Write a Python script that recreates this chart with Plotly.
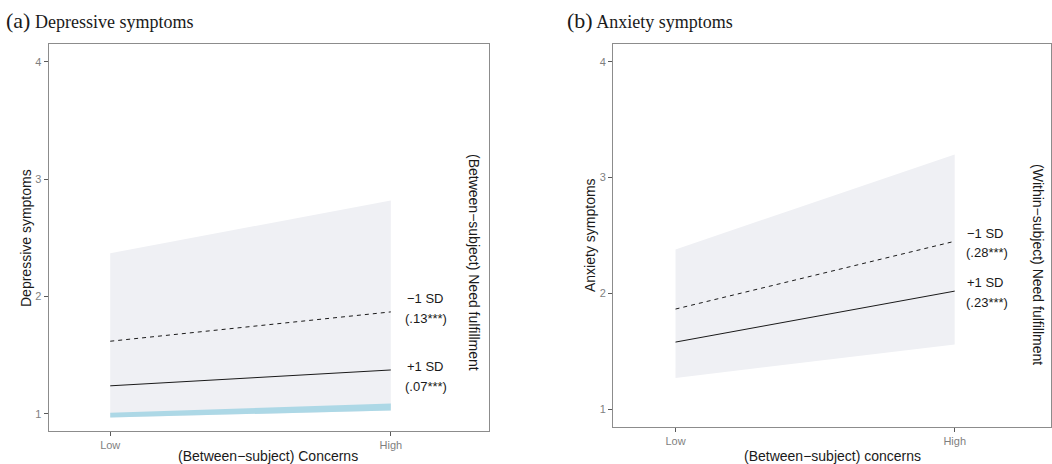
import plotly.graph_objects as go

W, H = 1052, 464

# ---- data ----
categories = ["Low", "High"]
x_num = [0, 1]

dep_minus1_sd = [1.62, 1.87]
dep_plus1_sd = [1.24, 1.375]
dep_ci_upper = [2.37, 2.82]
dep_ci_lower = [0.97, 1.03]
dep_band_upper = [1.01, 1.09]
dep_band_lower = [0.97, 1.03]

anx_minus1_sd = [1.865, 2.45]
anx_plus1_sd = [1.58, 2.02]
anx_ci_upper = [2.38, 3.20]
anx_ci_lower = [1.27, 1.56]

y_ticks = [1, 2, 3, 4]

fig = go.Figure()

RIBBON = "#eff0f4"
BAND = "#add8e6"

def add_ribbon(lo, hi, color, xa, ya):
    fig.add_trace(go.Scatter(x=x_num + x_num[::-1], y=hi + lo[::-1], fill="toself",
                             fillcolor=color, line=dict(width=0), mode="lines",
                             xaxis=xa, yaxis=ya, showlegend=False, hoverinfo="skip"))

def add_line(vals, dash, xa, ya):
    fig.add_trace(go.Scatter(x=x_num, y=vals, mode="lines",
                             line=dict(color="#1a1a1a", width=1, dash=dash),
                             xaxis=xa, yaxis=ya, showlegend=False))

# panel (a)
add_ribbon(dep_ci_lower, dep_ci_upper, RIBBON, "x", "y")
add_ribbon(dep_band_lower, dep_band_upper, BAND, "x", "y")
add_line(dep_minus1_sd, "4px,4px", "x", "y")
add_line(dep_plus1_sd, "solid", "x", "y")

# panel (b)
add_ribbon(anx_ci_lower, anx_ci_upper, RIBBON, "x2", "y2")
add_line(anx_minus1_sd, "4px,4px", "x2", "y2")
add_line(anx_plus1_sd, "solid", "x2", "y2")

def px_x(p):
    return p / W

def px_y(p):
    return 1 - p / H

tickfont = dict(family="Liberation Sans, Arial, sans-serif", size=11, color="#7f7f7f")
axis_common = dict(showgrid=False, zeroline=False, showline=True, linecolor="#8c8c8c",
                   linewidth=1, mirror=True, ticks="outside", ticklen=4,
                   tickcolor="#5a5a5a", tickfont=tickfont)

fig.update_layout(
    width=W, height=H,
    margin=dict(l=0, r=0, t=0, b=0),
    paper_bgcolor="white", plot_bgcolor="white",
    xaxis=dict(domain=[px_x(48.5), px_x(489)], range=[-0.22, 1.35],
               tickvals=x_num, ticktext=categories, anchor="y", **axis_common),
    yaxis=dict(domain=[px_y(431), px_y(44)], range=[0.855, 4.153],
               tickvals=y_ticks, anchor="x", **axis_common),
    xaxis2=dict(domain=[px_x(613), px_x(1051)], range=[-0.224, 1.345],
                tickvals=x_num, ticktext=categories, anchor="y2", **axis_common),
    yaxis2=dict(domain=[px_y(427), px_y(44)], range=[0.847, 4.153],
                tickvals=y_ticks, anchor="x2", **axis_common),
)

annotations = []

def ann(text, x, y, size=14, angle=0, family="Liberation Sans, Arial, sans-serif", xanchor="center", color="#1a1a1a"):
    annotations.append(dict(text=text, x=px_x(x), y=px_y(y), xref="paper", yref="paper",
                            showarrow=False, textangle=angle, xanchor=xanchor, yanchor="middle",
                            font=dict(family=family, size=size, color=color)))

serif = "Liberation Serif, Times New Roman, serif"
ann("<span style='font-size:22px'>(a)</span> Depressive symptoms", 4, 20, size=18, family=serif, xanchor="left")
ann("<span style='font-size:22px'>(b)</span> Anxiety symptoms", 565, 20, size=18, family=serif, xanchor="left")

# axis titles
ann("Depressive symptoms", 26, 238, angle=-90)
ann("(Between\u2212subject) Concerns", 268, 456)
ann("Anxiety symptoms", 590, 235, angle=-90)
ann("(Between\u2212subject) concerns", 832, 456)

# right-side rotated titles
ann("(Between\u2212subject) Need fulfillment", 474, 262, angle=90)
ann("(Within\u2212subject) Need fulfillment", 1038, 264, angle=90)

# SD labels
ann("\u22121 SD", 425, 298, size=13)
ann("(.13***)", 426, 318, size=13)
ann("+1 SD", 425, 366, size=13)
ann("(.07***)", 426, 386, size=13)
ann("\u22121 SD", 985, 233, size=13)
ann("(.28***)", 987, 253, size=13)
ann("+1 SD", 985, 282, size=13)
ann("(.23***)", 987, 302, size=13)

fig.update_layout(annotations=annotations)

fig.write_html("out.html", config={"displayModeBar": False},
               post_script="document.body.style.margin='0';document.body.style.overflow='hidden';")
